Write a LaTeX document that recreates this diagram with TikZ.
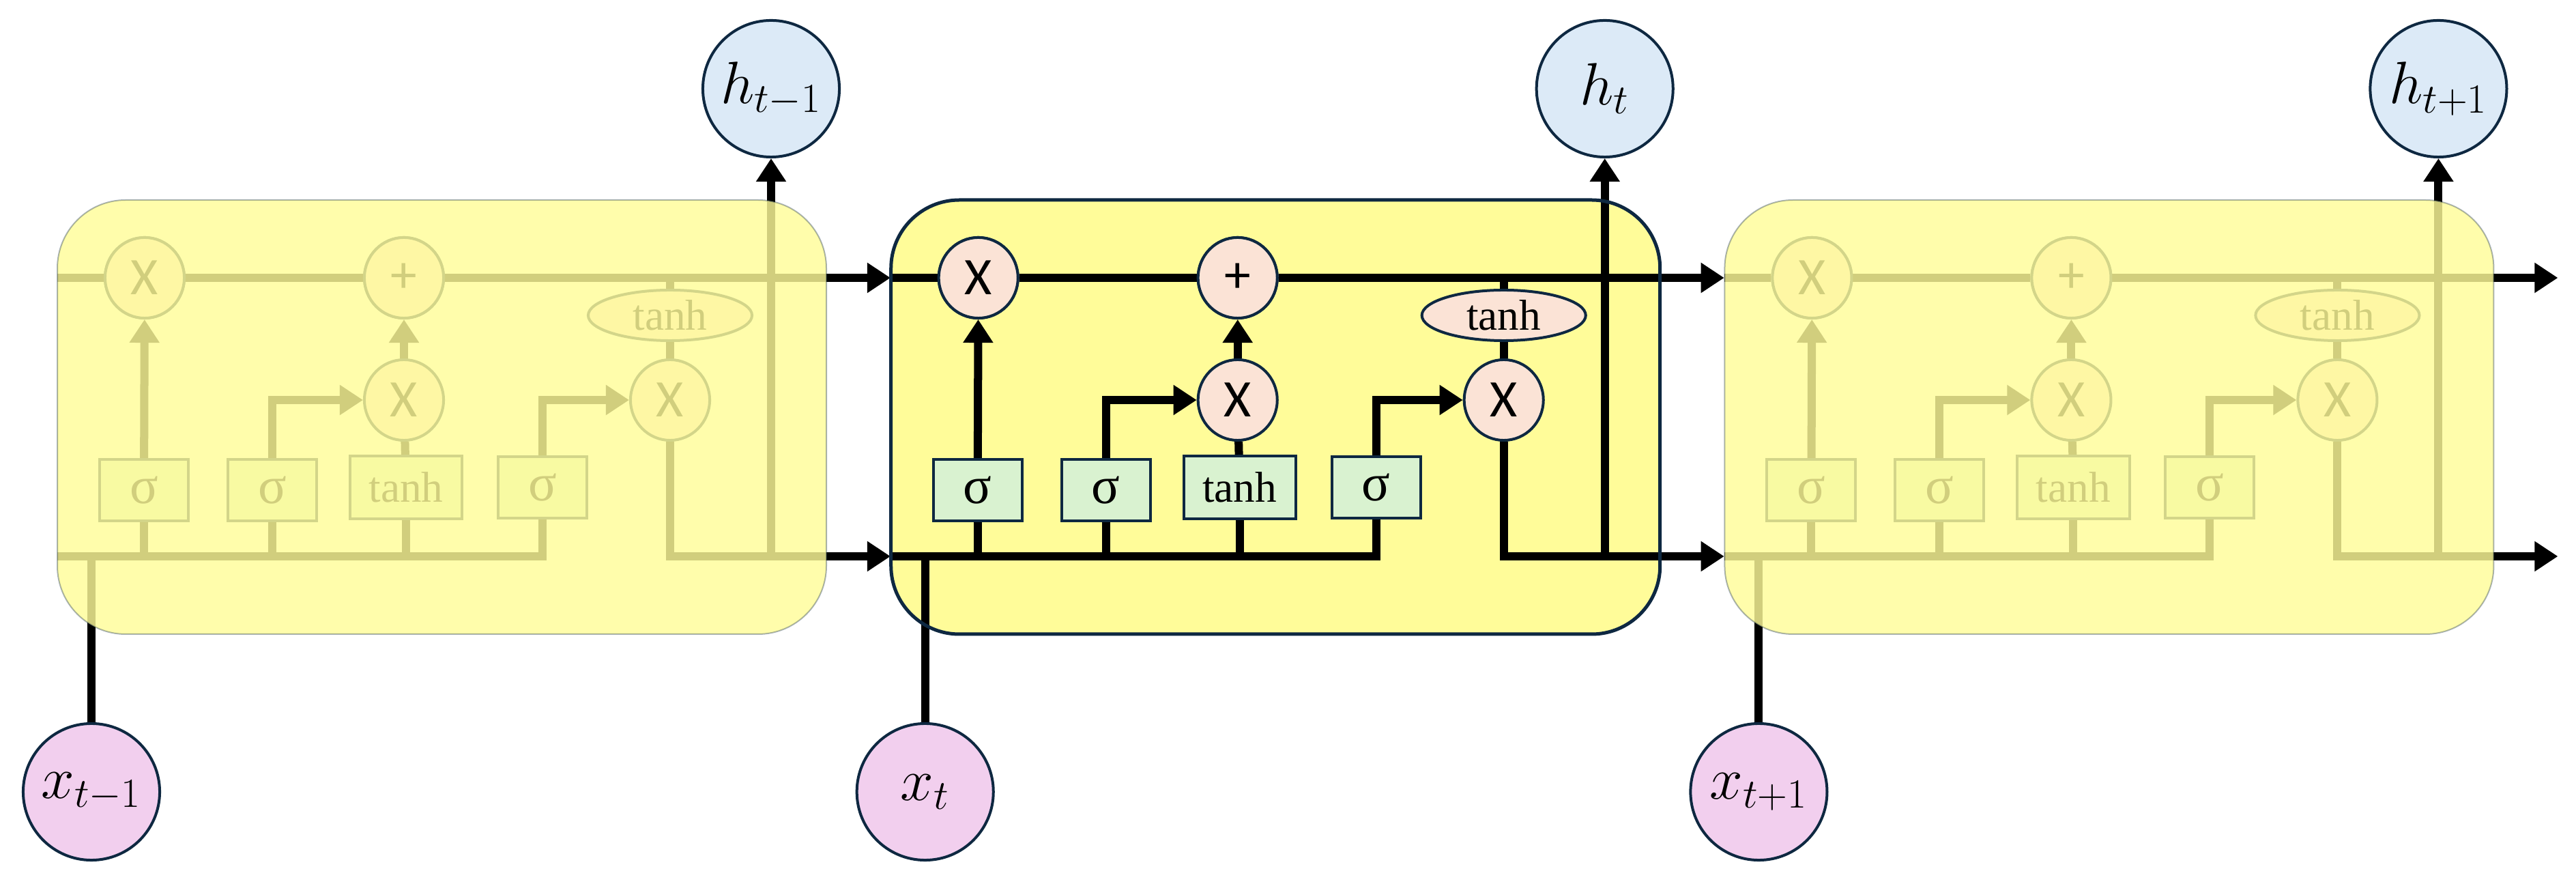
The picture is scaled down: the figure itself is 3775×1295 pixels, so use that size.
\documentclass[tikz,border=0pt]{standalone}
\usepackage{fontspec}
\setmainfont{Liberation Serif}
\newfontfamily\sansX{Carlito}
\usetikzlibrary{arrows.meta}
\definecolor{cellY}{HTML}{FFFC99}
\definecolor{peach}{HTML}{FBE3D6}
\definecolor{mint}{HTML}{D9F2D0}
\definecolor{pinkc}{HTML}{F2CFEE}
\definecolor{bluec}{HTML}{DCEAF7}
\definecolor{navy}{HTML}{0E2841}
\tikzset{
  wire/.style={line width=0.12cm,black},
  arr/.style={wire,-{Triangle[length=0.34cm,width=0.42cm]}},
  op/.style={ellipse,draw=navy,line width=0.04cm,fill=peach,minimum width=1.16cm,minimum height=1.18cm,inner sep=0pt,font=\sansX\fontsize{22}{22}\selectfont},
  gate/.style={rectangle,draw=navy,line width=0.04cm,fill=mint,minimum width=1.3cm,minimum height=0.9cm,inner sep=0pt,font=\fontsize{22}{22}\selectfont},
  io/.style={circle,draw=navy,line width=0.04cm,minimum size=2cm,inner sep=0pt,font=\fontsize{24}{24}\selectfont},
}
\usetikzlibrary{shapes.geometric}
\begin{document}
\begin{tikzpicture}[x=0.01cm,y=-0.01cm]
\useasboundingbox (0,0) rectangle (3775,1295);
\foreach \i/\xl/\hl in {0/{t-1}/{t-1},1/t/t,2/{t+1}/{t+1}}{
\begin{scope}[xshift=84cm*0.01+\i*12.21cm]
  \ifnum\i=1
    \fill[cellY,rounded corners=1cm] (0,293) rectangle (1127,929);
  \fi
  \node[op] (f\i) at (128,407) {X};
  \node[op] (p\i) at (508,407) {+};
  \node[op] (m\i) at (508,586) {X};
  \node[op] (o\i) at (898,586) {X};
  \node[ellipse,draw=navy,line width=0.04cm,fill=peach,minimum width=2.4cm,minimum height=0.74cm,inner sep=0pt,font=\fontsize{18}{18}\selectfont] (th\i) at (898,462) {tanh};
  \node[gate] (s1\i) at (127,718) {σ};
  \node[gate] (s2\i) at (315,718) {σ};
  \node[gate,minimum width=1.64cm,minimum height=0.92cm,font=\fontsize{18}{18}\selectfont] (tb\i) at (511,714) {tanh};
  \node[gate] (s3\i) at (711,714) {σ};
  \node[io,fill=pinkc] (x\i) at (50,1160) {$x_{\xl}$};
  \node[io,fill=bluec] (h\i) at (1046,130) {$h_{\hl}$};
  \coordinate (ul\i) at (0,407);
  \coordinate (ll\i) at (0,815);
  \coordinate (ue\i) at (1221,407);
  \coordinate (le\i) at (1221,815);
  \coordinate (hb\i) at (1046,815);
  \coordinate (xb\i) at (50,815);
  \coordinate (lc\i) at (711,815);
  \coordinate (tt\i) at (898,407);
  % wires
  \draw[wire] (ul\i) -- (f\i);
  \draw[wire] (f\i) -- (p\i);
  \draw[arr] (p\i) -- (ue\i);
  \draw[wire] (ll\i) -- (lc\i) -- (s3\i.south);
  \draw[wire] (s1\i.south) -- (s1\i.south |- ll\i);
  \draw[wire] (s2\i.south) -- (s2\i.south |- ll\i);
  \draw[wire] (tb\i.south) -- (tb\i.south |- ll\i);
  \draw[wire] (x\i) -- (xb\i);
  \draw[arr] (s1\i) -- (f\i);
  \draw[wire] (tb\i) -- (m\i);
  \draw[arr] (m\i) -- (p\i);
  \draw[arr] (s2\i.north) |- (m\i.west);
  \draw[arr] (s3\i.north) |- (o\i.west);
  \draw[wire] (tt\i) -- (th\i);
  \draw[wire] (th\i) -- (o\i);
  \draw[arr] (o\i.south) |- (le\i);
  \draw[arr] (hb\i) -- (h\i);
  % redraw nodes on top of wires
  \node[op] at (f\i) {X};
  \node[op] at (p\i) {+};
  \ifnum\i=1\else
    \fill[cellY,opacity=0.82,rounded corners=1cm] (0,293) rectangle (1127,929);
    \draw[navy,opacity=0.35,line width=0.02cm,rounded corners=1cm] (0,293) rectangle (1127,929);
  \fi
  \ifnum\i=1
    \draw[navy,line width=0.05cm,rounded corners=1cm] (0,293) rectangle (1127,929);
  \fi
\end{scope}
}
\end{tikzpicture}
\end{document}
